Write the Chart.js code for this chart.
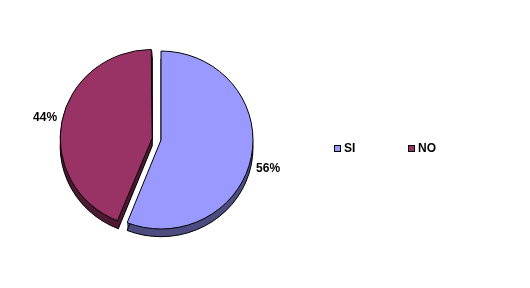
<!DOCTYPE html>
<html>
<head>
<meta charset="utf-8">
<script src="https://cdn.jsdelivr.net/npm/chart.js@4/dist/chart.umd.min.js"></script>
<style>
  html, body { margin: 0; padding: 0; background: #fff; }
  #wrap { width: 530px; height: 288px; position: relative; }
</style>
</head>
<body>
<div id="wrap"><canvas id="chart1"></canvas></div>
<script>
// data
var labels = ['SI', 'NO'];
var values = [56, 44];
var pctLabels = ['56%', '44%'];
var colors = ['#9999FF', '#993366'];
var sideColors = ['#4D4D80', '#4D1A33'];

var font = 'bold 12px "Liberation Sans", Arial, sans-serif';
var depth = 8;
var squash = 0.967; // pie is drawn a little flatter than a circle

// centre of a slice after its explode offset (Chart.js draws offset / 4)
var sliceCentre = function (chart, el) {
    var a = el.getProps(['x', 'y', 'startAngle', 'endAngle'], true);
    var mid = (a.startAngle + a.endAngle) / 2;
    var off = (el.options.offset || 0) / 4;
    a.cx = a.x + Math.cos(mid) * off;
    a.cy = a.y + Math.sin(mid) * off;
    a.mid = mid;
    a.r = chart.getDatasetMeta(0).controller.outerRadius;
    return a;
};

// Chart.js grows an exploded slice's radius, shrink it back so both slices match,
// and flatten the pie a bit around its centre
var pieShape = {
    id: 'pieShape',
    afterUpdate: function (chart) {
        var meta = chart.getDatasetMeta(0);
        var base = meta.controller.outerRadius;
        meta.data.forEach(function (el) {
            var off = (el.options.offset || 0) / 4;
            var circ = el.endAngle - el.startAngle;
            var fix = 1 - Math.sin(Math.min(Math.PI, circ));
            el.outerRadius = base - off * fix;
        });
    },
    beforeDatasetsDraw: function (chart) {
        var ctx = chart.ctx;
        var cy = (chart.chartArea.top + chart.chartArea.bottom) / 2;
        ctx.save();
        ctx.translate(0, cy);
        ctx.scale(1, squash);
        ctx.translate(0, -cy);
    },
    afterDatasetsDraw: function (chart) {
        chart.ctx.restore();
    }
};

// the 3D side of each slice, drawn under the faces
var sidePlugin = {
    id: 'side',
    beforeDatasetsDraw: function (chart) {
        var ctx = chart.ctx;
        var arcs = chart.getDatasetMeta(0).data;
        ctx.save();
        for (var i = 0; i < arcs.length; i++) {
            var a = sliceCentre(chart, arcs[i]);
            for (var d = depth; d >= 1; d--) {
                ctx.beginPath();
                ctx.moveTo(a.cx, a.cy + d);
                ctx.arc(a.cx, a.cy + d, a.r, a.startAngle, a.endAngle);
                ctx.closePath();
                ctx.fillStyle = sideColors[i];
                ctx.fill();
            }
            ctx.beginPath();
            ctx.moveTo(a.cx, a.cy + depth);
            ctx.arc(a.cx, a.cy + depth, a.r, a.startAngle, a.endAngle);
            ctx.closePath();
            ctx.strokeStyle = '#000';
            ctx.lineWidth = 1;
            ctx.stroke();
        }
        ctx.restore();
    }
};

// percent labels outside the slices and the legend at the right
var labelPlugin = {
    id: 'labels',
    afterDatasetsDraw: function (chart) {
        var ctx = chart.ctx;
        var arcs = chart.getDatasetMeta(0).data;
        ctx.save();
        ctx.font = font;
        ctx.fillStyle = '#000';
        ctx.textAlign = 'center';
        ctx.textBaseline = 'middle';
        for (var i = 0; i < arcs.length; i++) {
            var a = sliceCentre(chart, arcs[i]);
            var r = a.r + 17;
            var dy = Math.sin(a.mid) > 0 ? 8 : 0;
            ctx.fillText(pctLabels[i], a.cx + Math.cos(a.mid) * r, a.cy + Math.sin(a.mid) * r + dy);
        }

        var lx = [334, 408];
        ctx.textAlign = 'left';
        for (var j = 0; j < labels.length; j++) {
            ctx.fillStyle = colors[j];
            ctx.fillRect(lx[j], 145, 7, 7);
            ctx.strokeStyle = '#000';
            ctx.lineWidth = 1;
            ctx.strokeRect(lx[j] + 0.5, 145.5, 6, 6);
            ctx.fillStyle = '#000';
            ctx.fillText(labels[j], lx[j] + 10, 149);
        }
        ctx.restore();
    }
};

var config = {
    type: 'pie',
    data: {
        labels: labels,
        datasets: [{
            data: values,
            backgroundColor: colors,
            borderColor: '#000',
            borderWidth: 1,
            offset: [0, 36],
            hoverOffset: 0
        }]
    },
    options: {
        responsive: true,
        maintainAspectRatio: false,
        animation: false,
        radius: 92,
        layout: {
            padding: { left: 60, right: 268, top: 40, bottom: 48 }
        },
        plugins: {
            legend: { display: false },
            tooltip: { enabled: false }
        }
    },
    plugins: [pieShape, sidePlugin, labelPlugin]
};

var chart = new Chart(document.getElementById('chart1'), config);
</script>
</body>
</html>
